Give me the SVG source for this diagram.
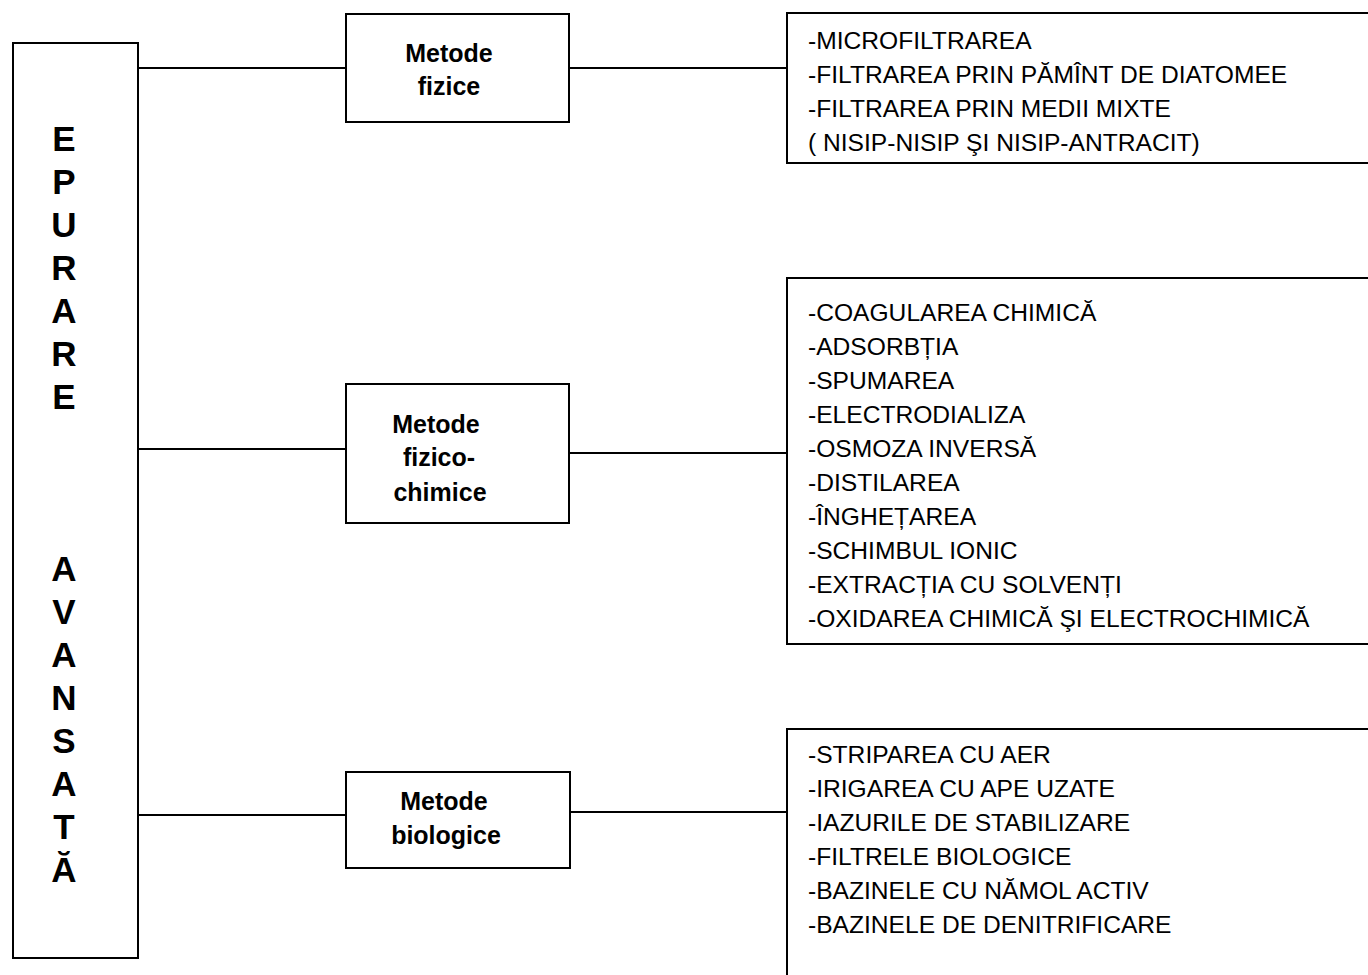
<svg xmlns="http://www.w3.org/2000/svg" width="1368" height="975" viewBox="0 0 1368 975">
<style>
.box{fill:#fff;stroke:#000;stroke-width:2}
.ln{stroke:#000;stroke-width:2;fill:none}
.big{font-family:"Liberation Sans",Arial,sans-serif;font-weight:bold;font-size:35px;text-anchor:middle;fill:#000}
.mid{font-family:"Liberation Sans",Arial,sans-serif;font-weight:bold;font-size:25px;text-anchor:middle;fill:#000}
.item{font-family:"Liberation Sans",Arial,sans-serif;font-size:24.6px;fill:#000}
</style>
<rect width="1368" height="975" fill="#fff"/>
<g id="connectors">
<line class="ln" x1="138" y1="68" x2="346" y2="68"/>
<line class="ln" x1="138" y1="449" x2="346" y2="449"/>
<line class="ln" x1="138" y1="815" x2="346" y2="815"/>
<line class="ln" x1="569" y1="68" x2="787" y2="68"/>
<line class="ln" x1="569" y1="453" x2="787" y2="453"/>
<line class="ln" x1="569" y1="812" x2="787" y2="812"/>
</g>
<g id="epurare">
<rect class="box" x="13" y="43" width="125" height="915"/>
<text class="big" x="64" y="151">E</text>
<text class="big" x="64" y="194">P</text>
<text class="big" x="64" y="237">U</text>
<text class="big" x="64" y="280">R</text>
<text class="big" x="64" y="323">A</text>
<text class="big" x="64" y="366">R</text>
<text class="big" x="64" y="409">E</text>
<text class="big" x="64" y="581">A</text>
<text class="big" x="64" y="624">V</text>
<text class="big" x="64" y="667">A</text>
<text class="big" x="64" y="710">N</text>
<text class="big" x="64" y="753">S</text>
<text class="big" x="64" y="796">A</text>
<text class="big" x="64" y="839">T</text>
<text class="big" x="64" y="882">Ă</text>
</g>
<g id="fizice">
<rect class="box" x="346" y="14" width="223" height="108"/>
<text class="mid" x="449" y="62">Metode</text>
<text class="mid" x="449" y="95">fizice</text>
</g>
<g id="fizicochimice">
<rect class="box" x="346" y="384" width="223" height="139"/>
<text class="mid" x="436" y="433">Metode</text>
<text class="mid" x="439" y="466">fizico-</text>
<text class="mid" x="440" y="501">chimice</text>
</g>
<g id="biologice">
<rect class="box" x="346" y="772" width="224" height="96"/>
<text class="mid" x="444" y="810">Metode</text>
<text class="mid" x="446" y="844">biologice</text>
</g>
<g id="lista-fizice">
<rect class="box" x="787" y="13" width="600" height="150"/>
<text class="item" x="808" y="49">-MICROFILTRAREA</text>
<text class="item" x="808" y="83">-FILTRAREA PRIN PĂMÎNT DE DIATOMEE</text>
<text class="item" x="808" y="117">-FILTRAREA PRIN MEDII MIXTE</text>
<text class="item" x="808" y="151">( NISIP-NISIP ŞI NISIP-ANTRACIT)</text>
</g>
<g id="lista-fizicochimice">
<rect class="box" x="787" y="278" width="600" height="366"/>
<text class="item" x="808" y="321">-COAGULAREA CHIMICĂ</text>
<text class="item" x="808" y="355">-ADSORBȚIA</text>
<text class="item" x="808" y="389">-SPUMAREA</text>
<text class="item" x="808" y="423">-ELECTRODIALIZA</text>
<text class="item" x="808" y="457">-OSMOZA INVERSĂ</text>
<text class="item" x="808" y="491">-DISTILAREA</text>
<text class="item" x="808" y="525">-ÎNGHEȚAREA</text>
<text class="item" x="808" y="559">-SCHIMBUL IONIC</text>
<text class="item" x="808" y="593">-EXTRACȚIA CU SOLVENȚI</text>
<text class="item" x="808" y="627">-OXIDAREA CHIMICĂ ŞI ELECTROCHIMICĂ</text>
</g>
<g id="lista-biologice">
<rect class="box" x="787" y="729" width="600" height="300"/>
<text class="item" x="808" y="763">-STRIPAREA CU AER</text>
<text class="item" x="808" y="797">-IRIGAREA CU APE UZATE</text>
<text class="item" x="808" y="831">-IAZURILE DE STABILIZARE</text>
<text class="item" x="808" y="865">-FILTRELE BIOLOGICE</text>
<text class="item" x="808" y="899">-BAZINELE CU NĂMOL ACTIV</text>
<text class="item" x="808" y="933">-BAZINELE DE DENITRIFICARE</text>
</g>
</svg>
